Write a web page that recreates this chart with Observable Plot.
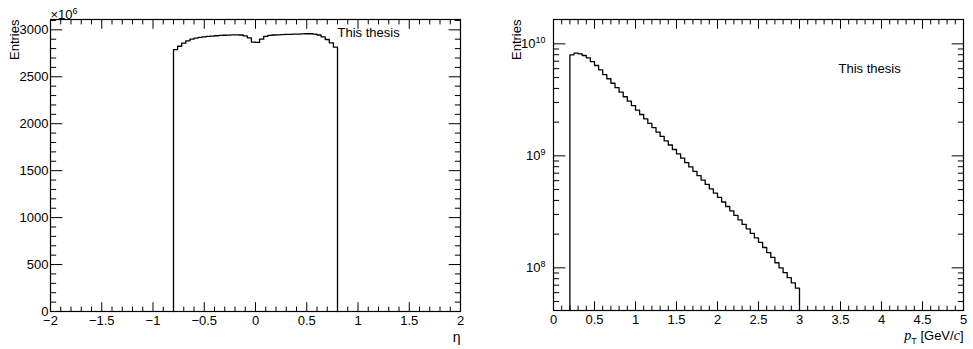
<!DOCTYPE html>
<html><head><meta charset="utf-8">
<script src="https://cdn.jsdelivr.net/npm/d3@7"></script>
<script src="https://cdn.jsdelivr.net/npm/@observablehq/plot@0.6"></script>
<style>
html,body{margin:0;padding:0;background:#fff;}
#wrap{position:relative;width:973px;height:349px;overflow:hidden;background:#fff;}
#left{position:absolute;left:0;top:0;}
#right{position:absolute;left:487px;top:0;}
svg text{font-family:"Liberation Sans",Arial,Helvetica,sans-serif;}
</style></head><body>
<div id="wrap"><div id="left"></div><div id="right"></div></div>
<script>
// ---------- eta histogram (entries in units of 10^6) ----------
const etaEdges = [-0.80,-0.76,-0.72,-0.68,-0.64,-0.60,-0.56,-0.52,-0.48,-0.44,-0.40,-0.36,-0.32,-0.28,-0.24,-0.20,-0.16,-0.12,-0.08,-0.04,0.00,
  0.04,0.08,0.12,0.16,0.20,0.24,0.28,0.32,0.36,0.40,0.44,0.48,0.52,0.56,0.60,0.64,0.68,0.72,0.76,0.80];
const etaEntries = [2790,2825,2858,2882,2900,2912,2920,2926,2930,2934,2937,2940,2942,2944,2946,2947,2945,2935,2915,2868,
  2866,2900,2930,2940,2945,2947,2949,2951,2952,2954,2955,2957,2958,2958,2955,2945,2925,2897,2860,2815];
const etaXMajor = [-2,-1.5,-1,-0.5,0,0.5,1,1.5,2];
const etaXMinor = [-1.9,-1.8,-1.7,-1.6,-1.4,-1.3,-1.2,-1.1,-0.9,-0.8,-0.7,-0.6,-0.4,-0.3,-0.2,-0.1,0.1,0.2,0.3,0.4,0.6,0.7,0.8,0.9,1.1,1.2,1.3,1.4,1.6,1.7,1.8,1.9];
const etaYMajor = [0,500,1000,1500,2000,2500,3000];
const etaYMinor = [100,200,300,400,600,700,800,900,1100,1200,1300,1400,1600,1700,1800,1900,2100,2200,2300,2400,2600,2700,2800,2900,3100];
const etaYDomain = [0,3110];

// ---------- pT histogram ----------
const ptEdges = [0.20,0.25,0.30,0.35,0.40,0.45,0.50,0.55,0.60,0.65,0.70,0.75,0.80,0.85,0.90,0.95,1.00,1.05,1.10,1.15,1.20,1.25,1.30,1.35,1.40,1.45,1.50,1.55,1.60,1.65,1.70,1.75,1.80,1.85,1.90,1.95,2.00,2.05,2.10,2.15,2.20,2.25,2.30,2.35,2.40,2.45,2.50,2.55,2.60,2.65,2.70,2.75,2.80,2.85,2.90,2.95,3.00];
const ptEntries = [7.98e9,8.26e9,8.15e9,7.87e9,7.50e9,6.95e9,6.41e9,5.86e9,5.32e9,4.88e9,4.45e9,4.06e9,3.70e9,3.37e9,3.08e9,2.81e9,2.56e9,2.34e9,2.14e9,1.95e9,
  1.79e9,1.63e9,1.49e9,1.36e9,1.25e9,1.14e9,1.04e9,9.53e8,8.71e8,7.96e8,7.28e8,6.65e8,6.08e8,5.56e8,5.08e8,4.65e8,4.25e8,3.87e8,3.53e8,3.22e8,
  2.94e8,2.68e8,2.44e8,2.23e8,2.03e8,1.85e8,1.69e8,1.52e8,1.37e8,1.24e8,1.11e8,1.00e8,9.06e7,8.17e7,7.33e7,6.58e7];
const ptXMajor = [0,0.5,1,1.5,2,2.5,3,3.5,4,4.5,5];
const ptXMinor = [0.1,0.2,0.3,0.4,0.6,0.7,0.8,0.9,1.1,1.2,1.3,1.4,1.6,1.7,1.8,1.9,2.1,2.2,2.3,2.4,2.6,2.7,2.8,2.9,3.1,3.2,3.3,3.4,3.6,3.7,3.8,3.9,4.1,4.2,4.3,4.4,4.6,4.7,4.8,4.9];
const ptYMajor = [1e8,1e9,1e10];
const ptYMinor = [5e7,6e7,7e7,8e7,9e7,2e8,3e8,4e8,5e8,6e8,7e8,8e8,9e8,2e9,3e9,4e9,5e9,6e9,7e9,8e9,9e9];
const ptYDomain = [4.16e7,1.65e10];

function stepPoints(edges, values, base) {
  const pts = [{x: edges[0], y: base}];
  values.forEach((v, i) => pts.push({x: edges[i], y: v}));
  const n = values.length;
  pts.push({x: edges[n], y: values[n - 1]});
  pts.push({x: edges[n], y: base});
  return pts;
}
const minus = d => d < 0 ? "\u2212" + Math.abs(d) : String(d);
const font = {fontFamily: "Liberation Sans, Arial, sans-serif", fontSize: "13px", background: "white", color: "black", overflow: "visible"};

function ticksMarks(xMaj, xMin, yMaj, yMin, xLen, yLen) {
  return [
    Plot.axisX(xMin, {anchor: "bottom", tickSize: -xLen / 2, fill: "none", label: null}),
    Plot.axisX(xMaj, {anchor: "bottom", tickSize: -xLen, fill: "none", label: null}),
    Plot.axisX(xMin, {anchor: "top", tickSize: -xLen / 2, fill: "none", label: null}),
    Plot.axisX(xMaj, {anchor: "top", tickSize: -xLen, fill: "none", label: null}),
    Plot.axisY(yMin, {anchor: "left", tickSize: -yLen / 2, fill: "none", label: null}),
    Plot.axisY(yMaj, {anchor: "left", tickSize: -yLen, fill: "none", label: null}),
    Plot.axisY(yMin, {anchor: "right", tickSize: -yLen / 2, fill: "none", label: null}),
    Plot.axisY(yMaj, {anchor: "right", tickSize: -yLen, fill: "none", label: null})
  ];
}

const left = Plot.plot({
  width: 487, height: 349,
  marginLeft: 50, marginRight: 27, marginTop: 19, marginBottom: 38,
  style: font,
  x: {domain: [-2, 2]},
  y: {domain: etaYDomain},
  marks: [
    ...ticksMarks(etaXMajor, etaXMinor, etaYMajor, etaYMinor, 8.8, 12.3),
    Plot.axisX(etaXMajor, {anchor: "bottom", tickSize: 0, tickPadding: 4, tickFormat: minus, label: null}),
    Plot.axisY(etaYMajor, {anchor: "left", tickSize: 0, tickPadding: 2, tickFormat: d => String(d), label: null}),
    Plot.line(stepPoints(etaEdges, etaEntries, 0), {x: "x", y: "y", curve: "step-after", stroke: "black", strokeWidth: 1.3}),
    Plot.frame({stroke: "black", strokeWidth: 1.2}),
    Plot.text(["Entries"], {text: d => d, frameAnchor: "top-left", rotate: -90, textAnchor: "end", lineAnchor: "middle", dx: -36, fontSize: 13}),
    Plot.text(["\u00d710"], {text: d => d, frameAnchor: "top-left", textAnchor: "start", lineAnchor: "bottom", dy: -1, fontSize: 13}),
    Plot.text(["This thesis"], {text: d => d, frameAnchor: "top-left", textAnchor: "start", lineAnchor: "top", dx: 287, dy: 8, fontSize: 13}),
    Plot.text(["\u03b7"], {text: d => d, frameAnchor: "bottom-right", textAnchor: "end", lineAnchor: "top", dy: 21, fontSize: 14})
  ]
});

const right = Plot.plot({
  width: 486, height: 349,
  marginLeft: 66, marginRight: 10, marginTop: 19, marginBottom: 39,
  style: font,
  x: {domain: [0, 5]},
  y: {type: "log", domain: ptYDomain},
  marks: [
    ...ticksMarks(ptXMajor, ptXMinor, ptYMajor, ptYMinor, 8.7, 12.3),
    Plot.axisX(ptXMajor, {anchor: "bottom", tickSize: 0, tickPadding: 4, tickFormat: minus, label: null}),
    Plot.axisY(ptYMajor, {anchor: "left", tickSize: 0, tickPadding: 8, tickFormat: d => "10^" + Math.round(Math.log10(d)), label: null}),
    Plot.line(stepPoints(ptEdges, ptEntries, ptYDomain[0]), {x: "x", y: "y", curve: "step-after", stroke: "black", strokeWidth: 1.3}),
    Plot.frame({stroke: "black", strokeWidth: 1.2}),
    Plot.text(["Entries"], {text: d => d, frameAnchor: "top-left", rotate: -90, textAnchor: "end", lineAnchor: "middle", dx: -37, fontSize: 13}),
    Plot.text(["This thesis"], {text: d => d, frameAnchor: "top-left", textAnchor: "start", lineAnchor: "top", dx: 285, dy: 44, fontSize: 13}),
    Plot.text(["pT [GeV/c]"], {text: d => d, frameAnchor: "bottom-right", textAnchor: "end", lineAnchor: "top", dy: 20, fontSize: 13})
  ]
});

document.getElementById("left").appendChild(left);
document.getElementById("right").appendChild(right);

// superscripts / subscripts / italics as real text
d3.select(left).selectAll("text").filter(function() { return this.textContent === "\u00d710"; }).each(function() {
  d3.select(this).append("tspan").attr("dy", "-5").attr("font-size", "9px").text("6");
});
d3.select(right).selectAll("text").filter(function() { return /^10\^/.test(this.textContent); }).each(function() {
  const exp = this.textContent.split("^")[1];
  const t = d3.select(this); t.text("10");
  t.append("tspan").attr("dy", "-5").attr("font-size", "9px").text(exp);
});
d3.select(right).selectAll("text").filter(function() { return this.textContent === "pT [GeV/c]"; }).each(function() {
  const t = d3.select(this); t.text("");
  t.append("tspan").attr("font-family", "Liberation Serif, serif").attr("font-style", "italic").attr("font-size", "14px").text("p");
  t.append("tspan").attr("dy", "4").attr("font-size", "9px").text("T");
  t.append("tspan").attr("dy", "-4").text(" [GeV/");
  t.append("tspan").attr("font-family", "Liberation Serif, serif").attr("font-style", "italic").attr("font-size", "14px").text("c");
  t.append("tspan").text("]");
});
</script>
</body></html>
